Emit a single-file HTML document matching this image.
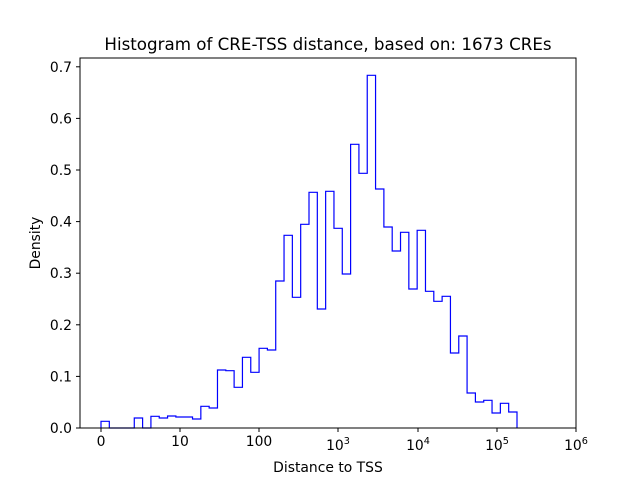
<!DOCTYPE html>
<html><head><meta charset="utf-8"><style>
body{margin:0;background:#fff;}
svg{display:block;font-family:"DejaVu Sans","Liberation Sans",sans-serif;}
</style></head><body>
<svg width="640" height="480" viewBox="0 0 640 480" xmlns="http://www.w3.org/2000/svg">
<rect width="640" height="480" fill="#fff"/>
<path fill="none" stroke="#0000ff" stroke-width="1.2" d="M101 428 V421.3 H109.32 V428 H134.28 V418 H142.6 V428 H150.92 V416.3 H159.24 V418 H167.56 V416 H175.88 V417 H184.2 V417 H192.52 V419 H200.84 V406.3 H209.16 V408 H217.48 V370 H225.8 V370.7 H234.12 V387.3 H242.44 V357.3 H250.76 V372.3 H259.08 V348.3 H267.4 V350 H275.72 V281 H284.04 V235.3 H292.36 V297.3 H300.68 V224.3 H309 V192.3 H317.32 V309 H325.64 V191.3 H333.96 V228.3 H342.28 V274 H350.6 V144.3 H358.92 V173.3 H367.24 V75.3 H375.56 V189 H383.88 V227 H392.2 V251 H400.52 V232.3 H408.84 V289 H417.16 V230.3 H425.48 V291.3 H433.8 V301.3 H442.12 V296.3 H450.44 V353 H458.76 V336 H467.08 V393 H475.4 V402 H483.72 V400.3 H492.04 V413 H500.36 V403.3 H508.68 V412 H517 V428"/>
<rect x="80" y="58" width="496" height="370" fill="none" stroke="#000" stroke-width="1"/>
<g stroke="#000" stroke-width="1">
<line x1="101" y1="428" x2="101" y2="432"/><line x1="180" y1="428" x2="180" y2="432"/><line x1="259" y1="428" x2="259" y2="432"/><line x1="338" y1="428" x2="338" y2="432"/><line x1="418" y1="428" x2="418" y2="432"/><line x1="497" y1="428" x2="497" y2="432"/><line x1="576" y1="428" x2="576" y2="432"/>
<line x1="76" y1="428" x2="80" y2="428"/><line x1="76" y1="376.4" x2="80" y2="376.4"/><line x1="76" y1="324.8" x2="80" y2="324.8"/><line x1="76" y1="273.2" x2="80" y2="273.2"/><line x1="76" y1="221.6" x2="80" y2="221.6"/><line x1="76" y1="170" x2="80" y2="170"/><line x1="76" y1="118.4" x2="80" y2="118.4"/><line x1="76" y1="66.8" x2="80" y2="66.8"/>
</g>
<g font-size="13.9" fill="#000" text-anchor="end">
<text x="72" y="433">0.0</text><text x="72" y="381.4">0.1</text><text x="72" y="329.8">0.2</text><text x="72" y="278.2">0.3</text><text x="72" y="226.6">0.4</text><text x="72" y="175">0.5</text><text x="72" y="123.4">0.6</text><text x="72" y="71.8">0.7</text>
</g>
<g font-size="13.9" fill="#000" text-anchor="middle">
<text x="101" y="446">0</text><text x="180" y="446">10</text><text x="259" y="446">100</text>
<text x="338" y="450">10<tspan font-size="9.7" dy="-6">3</tspan></text>
<text x="418" y="450">10<tspan font-size="9.7" dy="-6">4</tspan></text>
<text x="497" y="450">10<tspan font-size="9.7" dy="-6">5</tspan></text>
<text x="576" y="450">10<tspan font-size="9.7" dy="-6">6</tspan></text>
<text x="328" y="472">Distance to TSS</text>
<text x="328" y="50" font-size="16.7">Histogram of CRE-TSS distance, based on: 1673 CREs</text>
<text transform="translate(40,243) rotate(-90)">Density</text>
</g>
</svg>
</body></html>
